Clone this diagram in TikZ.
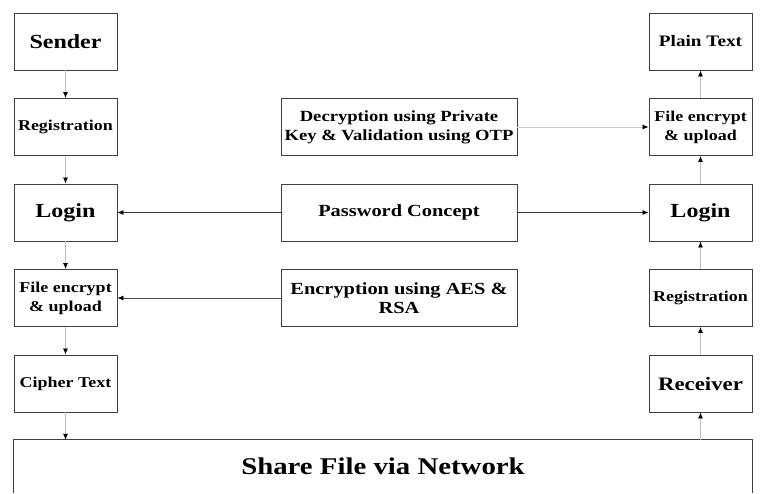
\documentclass[tikz,border=0pt]{standalone}
\usepackage{fontspec}
\setmainfont[FakeStretch=1.2]{Liberation Serif}
\usetikzlibrary{arrows.meta,positioning,calc}
\newcommand{\szf}[1]{\fontsize{#1}{19}\selectfont}
\tikzset{
    col/.style={
        rectangle,
        draw=black!75,
        line width=0.9pt,
        minimum width=103pt,
        minimum height=57pt,
        inner sep=1pt,
        align=center,
        font=\bfseries\szf{15},
    },
    mid/.style={
        col,
        minimum width=236pt,
    },
    net/.style={
        rectangle,
        minimum width=738pt,
        minimum height=53pt,
        font=\bfseries\szf{24},
    },
    big/.style={font=\bfseries\szf{#1}},
    every edge/.style={
        draw,
        -{Latex[length=6pt,width=5pt,black]},
        line width=0.8pt,
    },
    lite/.style={black!25},
    dark/.style={black!80},
    node distance=85.5pt,
  }

\begin{document}
\begin{tikzpicture}[x=1pt,y=-1pt]
  \useasboundingbox (0,0) rectangle (760,493);

  % sender side
  \node [col,big=20] (llogin) at (65.5,212.5) {Login};
  \node [col,above of=llogin] (lreg) {Registration};
  \node [col,big=20,above of=lreg] (sender) {Sender};
  \node [col,below of=llogin] (lfile) {File encrypt\\\& upload};
  \node [col,below of=lfile] (cipher) {Cipher Text};

  % middle
  \node [mid,big=17,node distance=333.5pt,right of=llogin] (pwd) {Password Concept};
  \node [mid,big=15.5,above of=pwd] (dec) {Decryption using Private\\Key \& Validation using OTP};
  \node [mid,big=17,below of=pwd] (enc) {Encryption using AES \&\\RSA};

  % receiver side
  \node [col,big=20,node distance=301.5pt,right of=pwd] (rlogin) {Login};
  \node [col,above of=rlogin] (rfile) {File encrypt\\\& upload};
  \node [col,big=16,above of=rfile] (plain) {Plain Text};
  \node [col,below of=rlogin] (rreg) {Registration};
  \node [col,big=19,below of=rreg] (receiver) {Receiver};

  % network
  \node [net] (share) at (383,466.5) {Share File via Network};
  \draw [draw=black!75,line width=0.9pt] (share.south west) -- (share.north west)
        -- (share.north east) -- (share.south east);

  \draw (sender) edge[lite] (lreg);
  \draw (lreg) edge[lite] (llogin);
  \draw (llogin) edge[lite] (lfile);
  \draw (lfile) edge[lite] (cipher);
  \draw (cipher) edge[lite] (cipher |- share.north);

  \draw (share.north -| receiver) edge[lite] (receiver);
  \draw (receiver) edge[lite] (rreg);
  \draw (rreg) edge[lite] (rlogin);
  \draw (rlogin) edge[lite] (rfile);
  \draw (rfile) edge[lite] (plain);

  \draw (pwd) edge[dark] (llogin);
  \draw (pwd) edge[dark] (rlogin);
  \draw (dec) edge[black!20] (rfile);
  \draw (enc) edge[black!70] (lfile);
\end{tikzpicture}
\end{document}
